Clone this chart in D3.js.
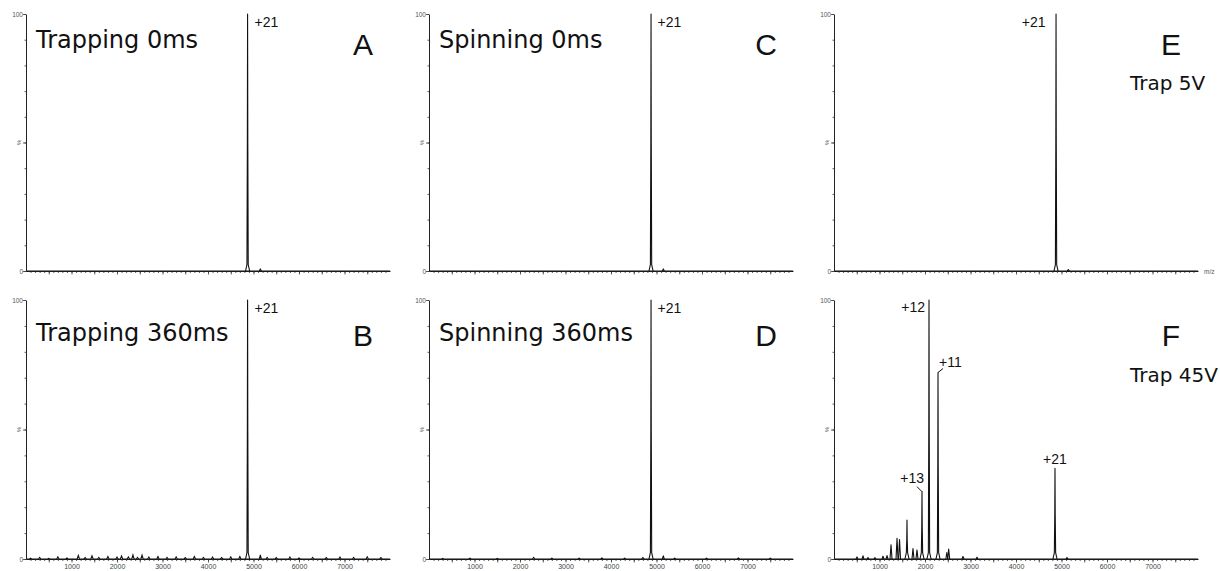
<!DOCTYPE html>
<html><head><meta charset="utf-8">
<script src="https://cdn.jsdelivr.net/npm/d3@7"></script>
<style>body{margin:0;background:#fff}svg{display:block}</style>
</head><body>
<svg id="c" width="1220" height="571"></svg>
<script>
// ---- data ----
const panelIds = ["A","B","C","D","E","F"];
const titles = ["Trapping 0ms","Trapping 360ms","Spinning 0ms","Spinning 360ms","",""];
const sideNotes = ["","","","","Trap 5V","Trap 45V"];
const xTickLabels = [1000,2000,3000,4000,5000,6000,7000];
const xDomain = [0, 8000];
const yDomain = [0, 100];
// peaks: [m/z, relative intensity %]
const peaksA = [[4870,100],[5150,0.8]];
const peaksB = [[4870,100],[5150,1.5]];
const peaksC = [[4880,100],[5150,0.8]];
const peaksD = [[4880,100],[5150,1.2]];
const peaksE = [[4880,100],[5150,0.6]];
const peaksF = [[505,0.8],[637,1.2],[747,0.6],[900,0.5],[1077,1.1],[1165,1.3],[1253,5.5],
  [1385,8],[1440,7.5],[1604,15],[1736,4],[1824,3.5],[1934,26],[2088,100],[2286,72],
  [2480,2.5],[2520,3.8],[2835,1],[3143,0.7],[4857,35],[5121,0.6]];
// baseline noise: [m/z, %]
const noiseB = [[100,0.3],[300,0.6],[500,0.2],[700,0.8],[900,0.4],[1150,1.3],[1300,0.5],
  [1450,1.2],[1600,0.6],[1800,0.9],[2000,0.7],[2100,1.1],[2250,0.8],[2350,1.5],[2450,0.6],
  [2550,1.4],[2700,0.7],[2900,0.9],[3100,0.6],[3300,0.8],[3500,0.5],[3700,0.9],[3900,0.6],
  [4100,0.7],[4300,0.5],[4500,0.8],[4700,0.9],[5300,0.6],[5500,0.5],[5800,0.7],[6000,0.4],
  [6300,0.6],[6600,0.5],[6900,0.7],[7200,0.6],[7500,0.8],[7800,0.5]];
const noiseD = [[300,0.2],[900,0.3],[1500,0.2],[2300,0.6],[2700,0.3],[3300,0.3],[3800,0.4],
  [4300,0.3],[4700,0.5],[5400,0.3],[6100,0.3],[6800,0.4],[7500,0.3]];
const peakLabelsA = [["+21",4870,100]];
const peakLabelsF = [["+12",2088,100],["+11",2286,72],["+13",1934,26],["+21",4857,35]];

const peaks = [peaksA,peaksB,peaksC,peaksD,peaksE,peaksF];
const noise = [[],noiseB,[],noiseD,[],[]];

// ---- layout ----
const colX = [26, 429, 834];
const rowTop = [14, 300];
const rowBase = [271, 559];
const plotW = 364;

const svg = d3.select("#c");
const tickFont = "Liberation Sans, Arial, sans-serif";

panelIds.forEach((id, i) => {
  const col = Math.floor(i/2), row = i%2;
  const x0 = colX[col];
  const x = d3.scaleLinear().domain(xDomain).range([x0, x0+plotW]);
  const y = d3.scaleLinear().domain(yDomain).range([rowBase[row], rowTop[row]]);
  const g = svg.append("g");

  // x axis
  const xa = g.append("g").attr("transform",`translate(0,${rowBase[row]})`);
  xa.call(d3.axisBottom(x).tickValues(d3.range(100,8000,100)).tickSize(2).tickFormat("").tickSizeOuter(0));
  const xa2 = xa.append("g").call(d3.axisBottom(x).tickValues(d3.range(500,8000,500)).tickSize(3.5)
      .tickFormat(d => (row===1 && xTickLabels.includes(d)) ? d : "").tickSizeOuter(0));
  xa2.select("path.domain").remove();
  xa.selectAll("path.domain").attr("stroke","#222").attr("stroke-width",1);
  xa.selectAll("line").attr("stroke","#333").attr("stroke-width",0.8);
  xa.selectAll("text").attr("font-family",tickFont).attr("font-size",7).attr("fill","#444").attr("dy","0.5em");

  // y axis
  const ya = g.append("g").attr("transform",`translate(${x0},0)`);
  ya.call(d3.axisLeft(y).tickValues(d3.range(0,101,10)).tickSize(1.5).tickFormat("").tickSizeOuter(0));
  const ya2 = ya.append("g").call(d3.axisLeft(y).tickValues([0,50,100]).tickSize(3)
     .tickFormat(d => d===50 ? "" : d).tickSizeOuter(0));
  ya2.select("path.domain").remove();
  ya.selectAll("path.domain").attr("stroke","#222").attr("stroke-width",1);
  ya.selectAll("line").attr("stroke","#333").attr("stroke-width",0.8);
  ya.selectAll("text").attr("font-family",tickFont).attr("font-size",6.5).attr("fill","#555").attr("x",-3);
  g.append("text").attr("transform",`translate(${x0-5},${y(50)}) rotate(-90)`)
    .attr("text-anchor","middle").attr("font-family",tickFont).attr("font-size",6)
    .attr("fill","#555").text("%");
  if (id==="E") {
    g.append("text").attr("x",x0+plotW+6).attr("y",rowBase[row]+2.5)
      .attr("font-family",tickFont).attr("font-size",6.5).attr("fill","#555").text("m/z");
  }

  const line = d3.line().x(d=>x(d[0])).y(d=>y(d[1]));
  // baseline / noise
  const base = [[xDomain[0],0]];
  noise[i].forEach(n => { base.push([n[0]-25,0],[n[0],n[1]],[n[0]+25,0]); });
  base.push([xDomain[1],0]);
  g.append("path").attr("d",line(base)).attr("fill","none").attr("stroke","#111").attr("stroke-width",1.2);

  // peaks
  peaks[i].forEach(p => {
    const [m,h] = p;
    const pts = h > 10
      ? [[m-45,0],[m-14,2.5],[m-5,h*0.5],[m,h],[m+5,h*0.5],[m+14,2.5],[m+45,0]]
      : [[m-22,0],[m,h],[m+22,0]];
    g.append("path").attr("d",line(pts)).attr("fill","none").attr("stroke","#111")
      .attr("stroke-width",1.1).attr("stroke-linejoin","round");
  });

  // titles
  if (titles[i]) {
    g.append("text").attr("x",x0+10).attr("y",rowTop[row]+34+(row?7:0))
      .attr("font-family","DejaVu Sans, Verdana, sans-serif").attr("font-size",24)
      .attr("fill","#111").text(titles[i]);
  }
  g.append("text").attr("x",x0+337).attr("y",rowTop[row]+41+(row?5:0)).attr("text-anchor","middle")
    .attr("font-family",tickFont).attr("font-size",30).attr("fill","#111").text(id);
  if (sideNotes[i]) {
    g.append("text").attr("x",x0+296).attr("y",rowTop[row]+(row?82:76))
      .attr("font-family","DejaVu Sans, Verdana, sans-serif").attr("font-size",20)
      .attr("fill","#111").text(sideNotes[i]);
  }

  // peak labels
  const lf = "Liberation Sans, Arial, sans-serif";
  if (id !== "F") {
    const [t,m,h] = peakLabelsA[0];
    const right = id==="E";
    g.append("text").attr("x", right ? x(m)-10 : x(m)+7).attr("y", y(h)+13)
      .attr("text-anchor", right ? "end" : "start")
      .attr("font-family",lf).attr("font-size",14).attr("fill","#111").text(t);
  } else {
    peakLabelsF.forEach(([t,m,h]) => {
      let tx, ty, anchor="start", leader=null;
      if (t==="+12") { tx = x(m)-4; ty = y(h)+12; anchor="end"; }
      else if (t==="+11") { tx = x(m)+1; ty = y(h)-6; leader=[[x(m),y(h)],[x(m)+5,y(h)-4]]; }
      else if (t==="+13") { tx = x(m)+2; ty = y(h)-9; anchor="end"; leader=[[x(m),y(h)],[x(m)-5,y(h)-5]]; }
      else { tx = x(m); ty = y(h)-4; anchor="middle"; }
      g.append("text").attr("x",tx).attr("y",ty).attr("text-anchor",anchor)
        .attr("font-family",lf).attr("font-size",14).attr("fill","#111").text(t);
      if (leader) g.append("path").attr("d",d3.line()(leader)).attr("stroke","#111")
        .attr("stroke-width",1).attr("fill","none");
    });
  }
});
</script>
</body></html>
